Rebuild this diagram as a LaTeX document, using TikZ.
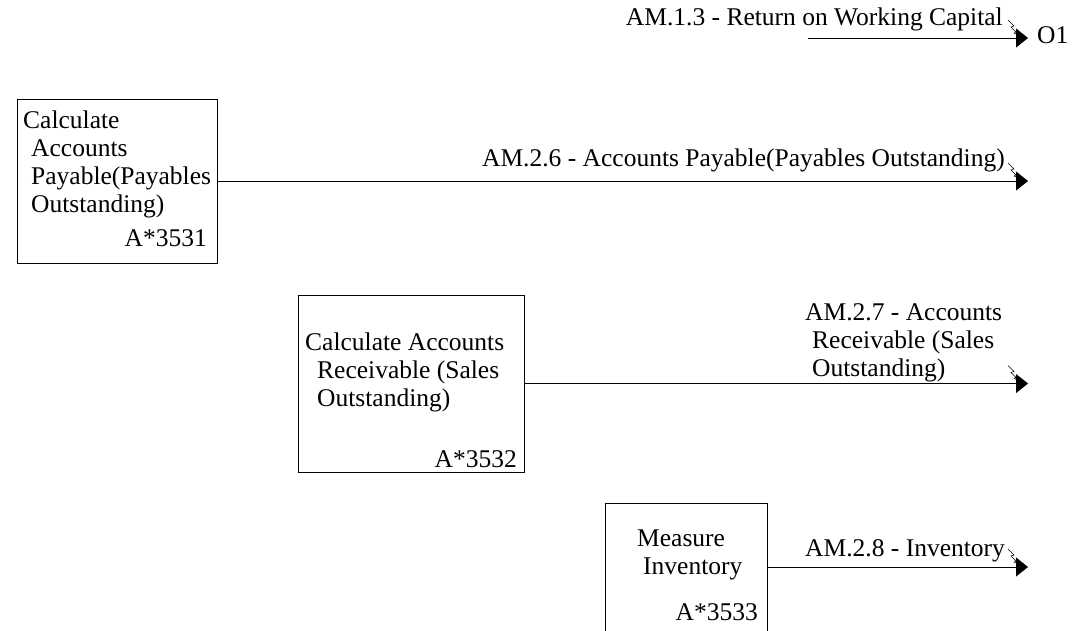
\documentclass[tikz,border=0pt]{standalone}
\usepackage{fontspec}
\setmainfont{Liberation Serif}
\usetikzlibrary{arrows.meta}
\tikzset{
  actbox/.style={draw, line width=0.8pt, inner sep=0pt},
  txt/.style={inner sep=0pt, font=\fontsize{25.5}{28}\selectfont, align=left},
  flow/.style={line width=0.8pt, -{Triangle[length=12pt,width=19pt]}},
  squig/.style={line width=0.6pt, -{Triangle[open,length=5pt,width=5pt]}}
}
\begin{document}
\begin{tikzpicture}[x=1pt,y=-1pt]
\useasboundingbox (0,0) rectangle (1074,630);

%Output O1
\coordinate (i13) at (808,38);
\coordinate (o13) at (1028,38);
\draw[flow] (i13) -- (o13);
\node[txt, anchor=base east] (l13) at (1003,25) {AM.1.3 - Return on Working Capital};
\node[txt, anchor=base west] (n13) at (1037,43) {O1};

%Box A*3531
\node[actbox, minimum width=200pt, minimum height=164pt] (a3531) at (117,181) {};
\node[txt, anchor=base west] (t3531) at (23,212) {Calculate\\\hspace*{8pt}Accounts\\\hspace*{8pt}Payable(Payables\\\hspace*{8pt}Outstanding)};
\node[txt, anchor=base east] (n3531) at (207,246) {A*3531};
\coordinate (o26) at (1028,181);
\draw[flow] (a3531.east) -- (o26);
\node[txt, anchor=base east] (l26) at (1005,166) {AM.2.6 - Accounts Payable(Payables Outstanding)};

%Box A*3532
\node[actbox, minimum width=226pt, minimum height=177pt] (a3532) at (411,383.5) {};
\node[txt, anchor=base west] (t3532) at (305,406) {Calculate Accounts\\\hspace*{12pt}Receivable (Sales\\\hspace*{12pt}Outstanding)};
\node[txt, anchor=base east] (n3532) at (517,467) {A*3532};
\coordinate (o27) at (1028,383.5);
\draw[flow] (a3532.east) -- (o27);
\node[txt, anchor=base west] (l27) at (805,376) {AM.2.7 - Accounts\\\hspace*{7pt}Receivable (Sales\\\hspace*{7pt}Outstanding)};

%Box A*3533
\node[actbox, minimum width=162pt, minimum height=128pt] (a3533) at (686,567) {};
\node[txt, anchor=base west] (t3533) at (637,574) {Measure\\\hspace*{6pt}Inventory};
\node[txt, anchor=base east] (n3533) at (758,620) {A*3533};
\coordinate (o28) at (1028,567);
\draw[flow] (a3533.east) -- (o28);
\node[txt, anchor=base west] (l28) at (805,556) {AM.2.8 - Inventory};

%label squiggles
\foreach \o in {o13,o26,o27,o28}
  \draw[squig] ([shift={(-20,-18)}]\o) -- ++(6,6) -- ++(-3,1) -- ++(8,8);
\end{tikzpicture}
\end{document}
